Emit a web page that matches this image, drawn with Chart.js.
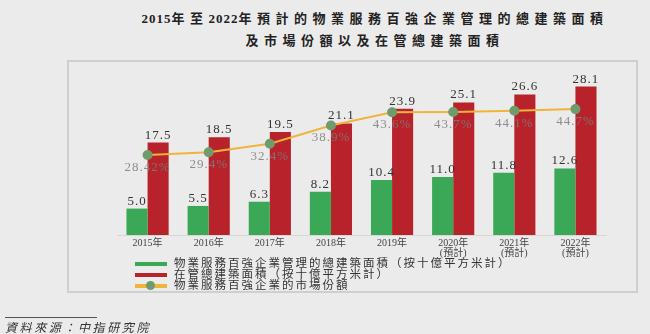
<!DOCTYPE html>
<html>
<head>
<meta charset="utf-8">
<script src="https://cdn.jsdelivr.net/npm/chart.js@4"></script>
<style>
  html, body { margin: 0; padding: 0; }
  body {
    width: 650px; height: 334px; position: relative; overflow: hidden;
    background: #ebebeb;
    font-family: "Liberation Serif", "Noto Sans CJK TC", serif;
  }
  .title {
    position: absolute; left: 100px; width: 550px; top: 8px;
    text-align: center; font-weight: bold; font-size: 13px;
    letter-spacing: 5.5px; line-height: 22px; color: #222;
  }
  .title span { letter-spacing: 1px; }
  .box {
    position: absolute; left: 67px; top: 60px; width: 571px; height: 233px;
    border: 2px solid #cfcfcf; box-sizing: border-box;
  }
  #wrap { position: absolute; left: 67px; top: 60px; width: 573px; height: 202px; }
  .legend {
    position: absolute; left: 135px; top: 258px; font-size: 11.5px;
    letter-spacing: 2px; color: #333; line-height: 11px;
  }
  .legend div { display: flex; align-items: center; height: 11px; }
  .legend i { display: inline-block; width: 32px; height: 4px; margin-right: 7px; position: relative; }
  .legend i b { position: absolute; left: 11px; top: -3px; width: 9px; height: 9px; border-radius: 50%; background: #6f9c6c; }
  .rule { position: absolute; left: 5px; top: 317px; width: 92px; border-top: 1px solid #555; }
  .source {
    position: absolute; left: 5px; top: 318px; font-size: 12px; font-style: italic;
    letter-spacing: 2.6px; color: #333;
  }
</style>
</head>
<body>
<div class="title"><span>2015</span>年至<span>2022</span>年預計的物業服務百強企業管理的總建築面積<br>及市場份額以及在管總建築面積</div>
<div class="box"></div>
<div id="wrap"><canvas id="c"></canvas></div>
<div class="legend">
  <div><i style="background:#3aa857"></i>物業服務百強企業管理的總建築面積（按十億平方米計）</div>
  <div><i style="background:#b8222b"></i>在管總建築面積（按十億平方米計）</div>
  <div><i style="background:#f0b43c"><b></b></i>物業服務百強企業的市場份額</div>
</div>
<div class="rule"></div>
<div class="source">資料來源：中指研究院</div>
<script>
// Kategorien und Werte
const years = [['2015年'], ['2016年'], ['2017年'], ['2018年'], ['2019年'],
  ['2020年', '(預計)'], ['2021年', '(預計)'], ['2022年', '(預計)']];
const top100Area = [5.0, 5.5, 6.3, 8.2, 10.4, 11.0, 11.8, 12.6];
const totalArea = [17.5, 18.5, 19.5, 21.1, 23.9, 25.1, 26.6, 28.1];
const marketShare = [28.42, 29.4, 32.4, 38.9, 43.6, 43.7, 44.1, 44.7];

// Werte-Beschriftungen über Balken und unter Punkten
const valueLabels = {
  id: 'valueLabels',
  afterDatasetsDraw(chart) {
    const ctx = chart.ctx;
    ctx.save();
    ctx.textAlign = 'center';
    ctx.letterSpacing = '1px';
    ctx.font = '13px "Liberation Serif", serif';
    chart.data.datasets.forEach((ds, i) => {
      const meta = chart.getDatasetMeta(i);
      meta.data.forEach((el, j) => {
        if (ds.type === 'line') {
          ctx.fillStyle = 'rgba(125,125,125,0.85)';
          ctx.textBaseline = 'top';
          ctx.fillText(ds.data[j] + '%', el.x, el.y + 6);
        } else {
          ctx.fillStyle = '#333';
          ctx.textBaseline = 'bottom';
          ctx.fillText(ds.data[j].toFixed(1), el.x, el.y - 1);
        }
      });
    });
    ctx.restore();
  }
};

new Chart(document.getElementById('c'), {
  data: {
    labels: years,
    datasets: [
      {
        type: 'line',
        data: marketShare,
        yAxisID: 'y2',
        borderColor: '#f0b43c',
        borderWidth: 2,
        pointRadius: 4,
        pointBackgroundColor: '#6f9c6c',
        pointBorderColor: '#6f9c6c',
        order: 0
      },
      {
        type: 'bar',
        data: top100Area,
        yAxisID: 'y',
        backgroundColor: '#3aa857',
        barPercentage: 1,
        categoryPercentage: 0.69,
        order: 1
      },
      {
        type: 'bar',
        data: totalArea,
        yAxisID: 'y',
        backgroundColor: '#b8222b',
        barPercentage: 1,
        categoryPercentage: 0.69,
        order: 1
      }
    ]
  },
  options: {
    responsive: true,
    maintainAspectRatio: false,
    animation: false,
    layout: { padding: { left: 50, right: 34, top: 2, bottom: 0 } },
    plugins: { legend: { display: false }, tooltip: { enabled: false } },
    scales: {
      x: {
        grid: { display: false, drawTicks: false },
        border: { color: '#d6d6d6', width: 1 },
        ticks: {
          color: '#444', padding: 3, maxRotation: 0,
          font: { family: '"Liberation Serif", "Noto Sans CJK TC", serif', size: 10, lineHeight: 1.05 }
        }
      },
      y: { display: false, min: 0, max: 32 },
      y2: { display: false, min: 0, max: 60 }
    }
  },
  plugins: [valueLabels]
});
</script>
</body>
</html>
